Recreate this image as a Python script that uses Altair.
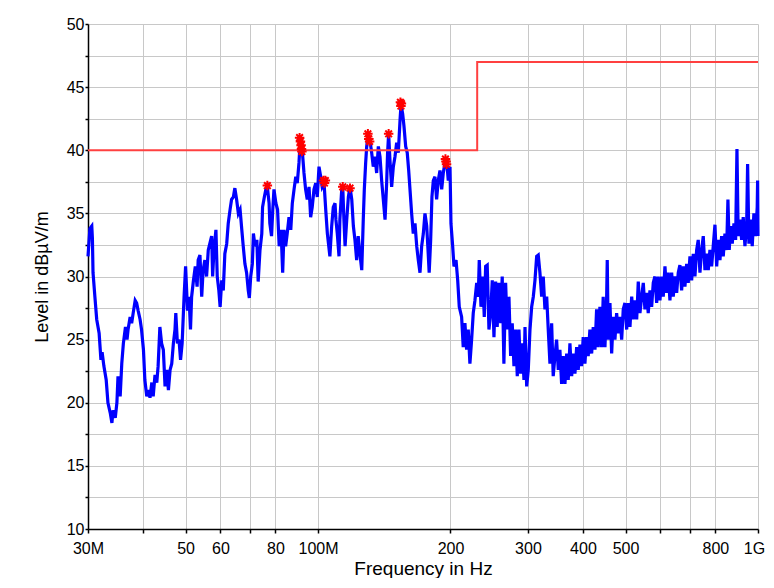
import altair as alt
import pandas as pd

freq_a = [30.0, 30.3, 30.6, 30.7, 30.8, 31.1, 31.4, 31.8, 32.1, 32.3, 32.6, 33.0, 33.3, 33.7, 34.0, 34.2,
          34.6, 34.9, 35.1, 35.5, 35.8, 36.1, 36.5, 36.8, 37.0, 37.4, 37.7, 38.0, 38.4, 38.7, 39.0, 39.4,
          39.7, 40.1, 40.4, 40.8, 41.1, 41.5, 41.9, 42.2, 42.6, 43.0, 43.3, 43.7, 44.1, 44.5, 44.9, 45.3,
          45.7, 46.1, 46.5, 46.9, 47.3, 47.5, 47.9, 48.3, 48.7, 49.1, 49.6, 50.0, 50.5, 50.9, 51.3, 51.6,
          52.1, 52.6, 53.1, 53.4, 53.9, 54.4, 54.8, 55.3, 55.8, 56.3]
level_a = [31.6, 33.8, 34.0, 33.0, 30.3, 28.4, 26.6, 25.5, 23.4, 24.0, 22.9, 21.8, 20.0, 19.2, 18.4, 19.4,
           18.8, 20.0, 22.1, 20.5, 23.1, 24.7, 26.0, 25.0, 25.8, 26.8, 26.3, 27.1, 28.1, 27.9, 27.3, 26.6,
           25.8, 24.2, 21.8, 20.5, 21.0, 20.4, 21.6, 20.5, 22.2, 21.6, 22.9, 26.0, 24.7, 24.2, 21.3, 22.6,
           21.0, 22.6, 23.1, 24.7, 25.8, 27.1, 24.7, 25.0, 23.4, 24.7, 28.4, 30.8, 27.3, 28.4, 25.8, 28.4,
           29.7, 30.8, 29.2, 31.3, 31.7, 28.4, 30.5, 31.3, 30.0, 32.1]

freq_b = [57.3, 57.6, 58.0, 58.6, 59.0, 59.5, 59.9, 60.4, 60.9, 61.4, 62.0, 62.5, 63.1, 63.6, 64.2, 64.7,
          65.3, 65.9, 66.5, 67.1, 67.6, 68.2, 68.8, 69.4, 69.8, 70.3, 70.9, 71.3, 71.9, 72.6, 73.1, 73.8,
          74.5, 74.8, 75.5, 76.1, 76.7, 77.4, 77.7, 78.4, 78.9, 79.4, 80.2, 80.9, 81.6, 82.4, 83.1, 83.7,
          84.4, 85.1, 85.9, 86.7, 87.4, 88.2, 89.0, 89.7, 90.5, 91.0, 91.6, 92.3, 92.9, 93.7, 94.5, 95.4,
          96.2, 97.0, 97.9, 98.8, 99.6, 100.5, 101.4, 102.2, 103.2, 104.1, 105.0]
level_b = [33.2, 30.0, 32.1, 33.7, 30.0, 28.9, 27.6, 29.7, 28.9, 31.8, 32.6, 34.2, 35.3, 36.1, 36.3, 37.0,
           36.1, 35.0, 35.3, 33.7, 32.4, 31.0, 30.3, 28.9, 28.3, 30.0, 31.0, 33.4, 32.4, 32.9, 29.6, 32.1,
           33.4, 35.5, 36.3, 36.9, 37.1, 35.8, 34.2, 33.2, 35.3, 36.9, 35.8, 35.3, 32.4, 33.7, 30.3, 33.7,
           32.4, 33.4, 34.7, 33.7, 35.8, 36.9, 37.9, 37.4, 39.0, 40.5, 41.0, 39.5, 38.2, 36.9, 36.1, 37.1,
           34.7, 35.5, 36.9, 37.4, 36.3, 38.7, 37.9, 37.1, 37.4, 35.3, 33.4]

freq_c = [106.4, 107.4, 108.3, 109.3, 109.8, 110.6, 111.6, 112.1, 113.2, 113.8, 114.5, 115.2, 116.2, 117.2,
          118.2, 119.3, 120.3, 121.3, 122.4, 123.4, 124.5, 125.7, 126.7, 127.4, 128.3, 129.0, 130.1, 131.2,
          132.4, 133.5, 134.7, 135.9, 137.1, 138.3, 139.5, 140.7, 142.0, 143.2, 143.9, 144.7, 145.7, 147.0,
          148.3, 149.6, 150.9, 152.2, 153.6, 154.4, 155.7, 156.8, 158.2, 159.5, 160.7, 161.8, 163.2, 164.6,
          166.1, 167.6, 169.0, 170.5, 172.0, 173.5, 175.0, 176.6, 178.0, 178.9, 180.3, 181.5, 182.8, 184.4,
          186.0, 187.6, 189.3, 191.0, 192.6, 194.3, 196.0, 197.7, 199.5, 200.5, 202.3, 203.7, 205.9, 207.7,
          209.4]
level_c = [31.6, 34.0, 35.5, 35.8, 34.5, 33.4, 31.6, 34.5, 36.9, 37.1, 34.5, 32.4, 34.5, 36.3,
           37.1, 36.1, 34.0, 32.9, 31.3, 33.2, 31.8, 30.5, 34.5, 36.9, 39.0, 40.3, 41.3, 40.8,
           39.8, 38.7, 39.5, 38.2, 40.3, 39.5, 37.6, 36.1, 34.5, 37.4, 39.8, 41.3, 39.2, 37.1,
           38.7, 39.5, 40.6, 39.8, 42.4, 43.6, 42.9, 41.9, 40.3, 39.8, 38.4, 36.9, 35.0, 33.4,
           34.2, 32.4, 31.3, 30.3, 32.4, 33.4, 35.0, 34.0, 31.8, 30.3, 32.9, 36.3, 37.6, 37.9,
           36.1, 37.6, 38.4, 36.9, 38.2, 39.0, 39.2, 37.6, 38.7, 34.2, 32.4, 30.8, 31.3, 29.7,
           27.6]

freq_d = [212.0, 213.8, 215.7, 217.6, 219.5, 221.4, 223.4, 225.3, 227.3, 229.4, 231.3, 232.5, 234.6, 236.7,
          238.7, 240.4, 242.4, 244.6, 246.8, 248.9, 251.1, 253.3, 255.4, 257.7, 260.1, 262.2, 264.5, 266.9,
          269.2, 271.6, 274.0, 276.3, 278.8, 281.3, 283.7, 286.2, 288.8, 291.2, 293.8, 295.4, 298.0, 300.5,
          303.2, 305.9, 308.5, 311.2, 314.0, 316.6, 319.4, 322.3, 325.0, 327.9, 330.9, 333.6, 336.6, 339.6,
          342.4, 345.5, 348.5, 351.6, 354.6, 357.8, 360.8, 364.1, 367.4, 370.4, 373.7, 377.1, 380.2, 383.6,
          387.1, 390.3, 393.8, 397.2, 400.6, 404.2, 407.8, 411.2, 414.9, 418.7, 422.2, 426.0, 429.7, 433.4,
          437.2, 441.2, 444.8, 447.2]
level_d = [26.8, 24.4, 26.3, 24.2, 25.8, 23.1, 25.0, 27.1, 28.1, 29.5, 28.4, 31.3, 27.6, 30.0,
           26.8, 30.8, 30.9, 25.8, 27.1, 29.7, 25.2, 29.6, 26.0, 29.5, 26.3, 30.0, 23.1, 29.5,
           25.8, 28.4, 23.7, 26.3, 22.9, 25.8, 22.1, 25.8, 22.3, 24.7, 21.8, 26.0, 21.3, 22.6,
           25.8, 27.6, 28.4, 29.7, 31.6, 31.7, 30.3, 28.4, 30.0, 27.4, 28.4, 25.8, 23.1, 26.3,
           22.1, 23.7, 25.0, 22.6, 24.2, 21.5, 23.7, 21.5, 23.9, 21.8, 24.7, 22.1, 23.9, 22.3,
           24.4, 22.6, 24.6, 22.9, 25.2, 23.1, 25.2, 23.7, 25.8, 23.9, 26.0, 24.2, 27.4, 24.4,
           27.6, 24.4, 28.4, 25.2]

freq_e = [448.9, 452.9, 454.3, 456.7, 460.8, 464.9, 468.8, 473.0, 477.2, 481.2, 485.6, 489.9, 494.0, 498.4,
          502.9, 507.2, 511.7, 516.3, 520.6, 525.3, 530.0, 534.4, 539.1, 544.0, 548.6, 553.4, 558.4, 563.0,
          568.1, 573.1, 578.0, 583.1, 588.4, 593.3, 598.6, 604.0, 609.0, 614.5, 619.9, 625.2, 630.7, 636.4,
          641.7, 647.5, 653.3, 658.8, 664.5, 670.5, 676.1, 682.2, 688.4, 694.1, 700.4, 706.6, 712.6, 718.9,
          725.4, 731.4, 738.0, 744.7, 750.9, 757.6, 764.3, 770.8, 777.6, 784.6, 791.1, 798.3, 805.5, 812.2,
          819.5, 826.7, 833.7, 841.1, 848.6, 854.4, 860.3, 866.6, 873.9, 881.8, 889.5, 895.7, 901.6, 909.8,
          918.0, 925.6, 933.9, 942.3, 947.1, 953.6, 962.2, 970.2, 978.8, 987.6, 995.9, 998.0, 1000.0]
level_e = [24.4, 28.4, 31.3, 25.0, 27.9, 23.9, 26.8, 25.0, 27.1, 25.5, 26.8, 25.0, 27.4, 27.9,
           25.8, 27.9, 26.0, 28.4, 26.6, 28.1, 26.6, 29.6, 27.1, 28.4, 29.5, 27.4, 28.7, 27.1,
           28.9, 27.6, 29.5, 30.0, 27.9, 30.0, 28.1, 30.0, 28.4, 30.8, 28.7, 30.3, 28.1, 30.3,
           28.4, 30.0, 28.7, 30.3, 30.9, 28.9, 30.8, 29.2, 31.0, 29.5, 31.6, 29.7, 31.8, 30.0,
           32.1, 32.9, 30.3, 32.1, 33.2, 30.5, 31.8, 30.5, 32.1, 30.8, 32.4, 34.1, 30.8, 32.9,
           31.3, 33.2, 31.6, 33.4, 32.1, 36.1, 32.1, 34.0, 32.6, 34.2, 32.9, 40.1, 33.2, 34.5,
           32.9, 34.7, 32.4, 34.0, 38.9, 32.6, 34.5, 32.4, 35.0, 33.2, 35.5, 37.6, 33.2]

# ---- limit line ----
limit_freq = [30, 230, 230, 1000]
limit_level = [40, 40, 47, 47]

# ---- peak markers ----
star_freq = [76.7, 90.8, 91.2, 91.5, 91.7, 91.9, 102.9, 103.4, 103.9, 113.8, 118.2,
             129.8, 130.4, 131.0, 144.7, 153.9, 154.3, 154.7, 194.8, 195.4, 195.9]
star_level = [37.2, 41.0, 40.7, 40.4, 40.1, 39.9, 37.6, 37.4, 37.6, 37.1, 37.0,
              41.3, 40.9, 40.7, 41.3, 43.8, 43.5, 43.7, 39.3, 39.1, 38.9]

# ---- axis ticks ----
x_ticks = [30, 40, 50, 60, 70, 80, 100, 200, 300, 400, 500, 600, 700, 800, 1000]
y_ticks = [10, 12.5, 15, 17.5, 20, 22.5, 25, 27.5, 30, 32.5, 35, 37.5, 40, 42.5, 45, 47.5, 50]

freqs = freq_a + freq_b + freq_c + freq_d + freq_e
levels = level_a + level_b + level_c + level_d + level_e
trace_df = pd.DataFrame({"f": freqs, "level": levels, "o": list(range(len(freqs)))})
limit_df = pd.DataFrame({"f": limit_freq, "level": limit_level, "o": list(range(len(limit_freq)))})
star_df = pd.DataFrame({"f": star_freq, "level": star_level})

FONT = "Liberation Sans"

x_label_expr = ("datum.value == 30 ? '30M' : datum.value == 100 ? '100M' : datum.value == 1000 ? '1G' : "
                "(datum.value == 40 || datum.value == 70 || datum.value == 600 || datum.value == 700) ? '' : "
                "format(datum.value, 'd')")

x_enc = alt.X(
    "f:Q",
    scale=alt.Scale(type="log", domain=[30, 1000], nice=False),
    axis=alt.Axis(
        values=x_ticks, labelExpr=x_label_expr, labelOverlap=False, labelFlush=False,
        labelOffset=alt.condition("datum.value == 1000", alt.value(-4), alt.value(0)),
        tickSize=4, labelPadding=7, title="Frequency in Hz", titleY=30,
        titleFontSize=19,
    ),
)
y_enc = alt.Y(
    "level:Q",
    scale=alt.Scale(domain=[10, 50], nice=False),
    axis=alt.Axis(
        values=y_ticks, labelExpr="datum.value % 5 == 0 ? format(datum.value, 'd') : ''",
        labelOverlap=False, labelFlush=False, tickSize=3, labelPadding=1,
        title="Level in dBµV/m", titleX=-46, titleY=252.5, titleAngle=270,
        titleAlign="center", titleBaseline="middle", titleFontSize=18,
    ),
)

trace = alt.Chart(trace_df).mark_line(color="#0000ff", strokeWidth=3.2).encode(
    x=x_enc, y=y_enc, order="o:Q"
)
limit = alt.Chart(limit_df).mark_line(color="#ff4040", strokeWidth=2).encode(
    x=x_enc, y=y_enc, order="o:Q"
)
star_shape = "M-1,0L1,0M0,-1L0,1M-0.7,-0.7L0.7,0.7M-0.7,0.7L0.7,-0.7"
stars = alt.Chart(star_df).mark_point(
    shape=star_shape, color="#ff0000", filled=False, size=90, strokeWidth=2, opacity=1
).encode(x=x_enc, y=y_enc)

chart = (
    alt.layer(trace, limit, stars)
    .properties(
        width=670, height=505,
        autosize=alt.AutoSizeParams(type="none"),
        padding={"left": 80, "top": 16, "right": 8, "bottom": 49},
    )
    .configure_view(stroke="transparent")
    .configure_axis(
        grid=True, gridColor="#c8c8c8", gridWidth=1,
        domainColor="black", domainWidth=1.5, tickColor="black", tickWidth=1.5,
        labelFont=FONT, labelFontSize=16, labelColor="black",
        titleFont=FONT, titleFontWeight="normal", titleColor="black",
    )
)

chart.save("out.html", embed_options={"renderer": "svg", "actions": False})
